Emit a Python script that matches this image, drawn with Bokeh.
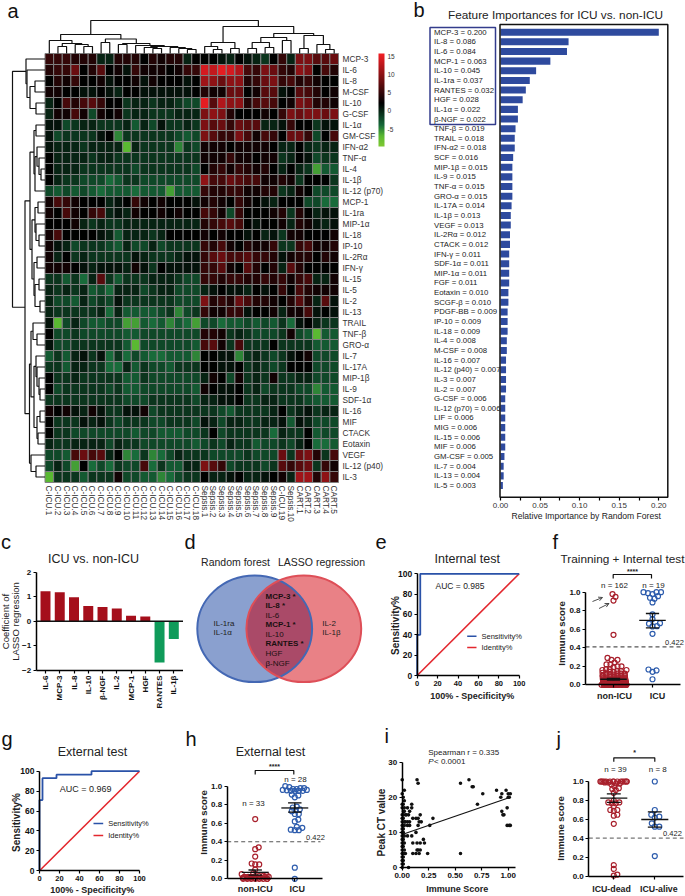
import math
import numpy as np
from bokeh.plotting import figure
from bokeh.layouts import column, row
from bokeh.embed import file_html
from bokeh.resources import INLINE
from bokeh.core.properties import value
from bokeh.models import (Range1d, LinearAxis, FixedTicker, NumeralTickFormatter,
                          LinearColorMapper, Arrow, OpenHead)

FONT = "Liberation Sans"

# ---------- DATA ----------
heat_cols = ["C-ICU.%d" % i for i in range(1, 19)] + ["Sepsis.%d" % i for i in range(1, 10)] + \
            ["C-ICU.19", "Sepsis.10"] + ["CART.%d" % i for i in range(1, 6)]
heat_rows_labels = ["MCP-3", "IL-6", "IL-8", "M-CSF", "IL-10", "G-CSF", "IL-1α", "GM-CSF", "IFN-α2", "TNF-α",
                    "IL-4", "IL-1β", "IL-12 (p70)", "MCP-1", "IL-1ra", "MIP-1α", "IL-18", "IP-10", "IL-2Rα",
                    "IFN-γ", "IL-15", "IL-5", "IL-2", "IL-13", "TRAIL", "TNF-β", "GRO-α", "IL-7", "IL-17A",
                    "MIP-1β", "IL-9", "SDF-1α", "IL-16", "MIF", "CTACK", "Eotaxin", "VEGF", "IL-12 (p40)", "IL-3"]
heat_values = [
 [5,5,5,4,4,4,0,0,4,4,4,2,4,3,4,4,0,2, 2,2,1,0,2,1,0,-1,2,5,0,9,9,7,7,8],
 [4,5,5,8,2,4,7,2,3,1,5,3,3,3,2,3,5,5, 14,13,15,14,12,6,5,9,8,5,4,10,9,2,6,4],
 [2,4,3,5,2,2,3,1,2,2,3,1,3,2,2,2,1,2, 11,10,8,10,10,4,5,8,9,5,6,4,5,3,2,2],
 [3,3,2,2,1,1,2,1,0,2,2,1,1,1,1,1,1,2, 4,3,3,8,8,2,3,7,7,1,2,7,6,4,2,3],
 [0,2,6,4,6,7,5,2,2,-1,0,0,-1,0,0,-1,-2,-2, 15,7,12,10,10,4,6,7,6,2,3,9,8,4,4,3],
 [0,3,3,6,3,-2,3,2,3,-1,0,0,-1,-1,-1,0,0,0, 9,10,9,4,2,2,2,3,2,5,9,8,9,9,8,9],
 [1,1,-2,-1,0,0,-1,-1,-1,0,-3,0,-2,1,-1,-1,0,-1, 9,7,8,5,8,7,7,0,0,1,5,2,2,-1,1,1],
 [1,-2,-1,-1,-1,-1,1,2,-5,-1,-1,-1,-1,-1,-1,-2,-3,-2, 9,7,5,5,9,6,3,6,5,2,8,8,5,-2,2,6],
 [1,0,0,0,-1,0,0,0,0,-7,0,-1,-1,-1,-1,-5,-1,-2, 3,3,3,2,3,3,3,3,2,0,0,2,0,-1,0,0],
 [2,0,0,0,0,-1,0,0,-1,-1,-1,-1,-1,-1,-1,-1,-1,-1, 3,3,3,5,3,3,2,3,3,-1,0,2,1,-2,-1,-1],
 [2,0,0,0,-1,-1,-1,-1,-1,-1,-2,-1,-1,-1,-1,-1,-1,-2, 2,4,5,3,5,4,3,4,2,0,2,0,-1,-6,-3,-3],
 [2,0,-1,-1,-2,-2,-2,-4,-3,-1,-1,-2,-2,-2,-2,-2,-2,-2, 10,6,6,8,7,6,6,3,3,4,3,-1,2,2,2,-1],
 [-2,-3,-2,-3,-2,-3,-4,-3,-3,-3,-4,-3,-3,-3,-6,-3,-3,-3, 5,4,4,5,5,3,3,4,4,-1,0,3,2,-2,-2,-2],
 [3,6,5,3,2,2,2,0,1,2,5,3,2,3,2,2,2,1, 3,4,3,2,5,3,2,1,0,2,2,2,-2,-2,-4,-4],
 [3,2,6,3,2,5,6,0,1,0,3,2,2,3,2,3,2,2, 6,5,3,-2,5,2,2,2,3,4,-1,4,2,0,1,1],
 [2,2,2,3,0,-1,0,-1,-1,0,0,0,0,0,0,0,0,0, 4,5,6,7,6,2,1,2,2,3,0,4,3,1,0,1],
 [3,6,2,2,2,2,1,0,-3,0,0,0,-1,0,2,2,2,2, 3,2,3,2,2,1,2,0,1,-1,3,3,2,2,2,3],
 [3,1,0,-2,-1,-1,-1,-2,-3,0,-2,-2,0,-2,-1,-1,-1,-1, 5,4,6,3,2,4,3,3,5,-1,-1,5,6,3,3,4],
 [3,0,2,-1,0,-1,-1,-1,-1,-1,1,0,-1,-1,-1,0,1,1, 5,7,8,6,6,7,5,5,4,1,3,4,4,2,4,3],
 [3,3,3,2,1,0,1,1,1,0,3,1,-1,2,1,1,1,1, 5,5,7,3,2,7,4,2,4,0,7,4,2,2,2,2],
 [-1,-1,-3,-1,-4,0,7,-1,-3,-1,-1,-1,0,0,0,-1,-2,-2, 5,5,4,5,5,4,4,5,4,5,3,5,6,0,0,3],
 [0,-1,0,-1,0,-3,-2,-4,0,0,0,-2,-1,0,0,-2,-2,-2, 0,1,2,1,1,0,2,1,2,5,2,6,4,3,3,3],
 [0,-2,-2,-3,0,-2,-1,-2,1,-1,-1,-1,-1,-1,-1,-2,-2,-2, 9,4,5,4,8,6,4,4,3,2,4,7,4,0,7,1],
 [0,-1,-1,-1,-1,-1,0,-4,0,-3,-3,-3,-3,-2,-1,-5,-2,-1, 5,3,3,5,5,1,2,2,3,0,3,3,6,1,2,1],
 [1,-7,-2,0,-2,-3,-3,-2,-2,-6,-6,-3,-4,-3,-5,-3,-4,-6, -2,-2,-4,-3,-3,-2,-3,-2,-3,-1,-4,1,2,0,-1,-1],
 [2,-2,-2,-1,-2,-2,-2,-2,-2,-3,-3,-2,-2,-2,-2,-2,-2,-2, 4,4,3,-1,0,-1,-2,-2,-2,-1,3,-2,-3,-7,-3,-3],
 [1,-2,-2,-1,-1,-1,-1,-1,-1,-3,-7,-2,-2,-2,-2,-2,-2,-3, 6,7,3,-1,6,-1,-1,-1,2,-1,-1,-1,-1,-3,-3,-3],
 [-3,-1,-3,0,1,-1,1,-4,-1,-4,-2,-3,-4,-4,-3,-3,-3,-5, 2,2,1,1,-5,-1,0,-1,-2,-1,1,2,3,-2,-2,-2],
 [-1,-1,-3,0,0,-1,-1,-4,-4,0,-3,-1,-2,-2,-3,-1,-1,-1, 2,2,1,1,2,-1,0,-1,-2,-1,2,2,2,-2,-2,-2],
 [2,-1,-1,0,-1,-1,-1,-1,-1,-3,-3,-1,-2,-2,-2,-2,-2,-2, 0,3,2,-2,3,-1,0,-1,3,-1,-1,0,0,-2,-2,-2],
 [2,-2,-1,-1,-1,-1,-1,-2,-1,-3,-3,-2,-2,-2,-2,-2,-2,-3, 3,2,1,1,2,-1,0,-2,-1,-1,-1,-2,-2,-5,-3,-3],
 [-1,-1,-1,-1,-1,-1,-1,-1,-1,-2,-2,-2,-1,-1,-1,-1,-1,-2, 0,0,1,1,2,-1,-1,0,0,-1,-1,-1,-2,-3,-3,-3],
 [3,2,3,1,0,3,1,-1,-1,1,1,3,-2,-1,-1,-1,-1,-1, -1,-1,-2,-3,-1,-1,-1,-1,0,2,-1,0,1,-1,0,0],
 [2,-1,-1,-1,1,0,1,-1,-2,-1,-1,-1,-2,-2,-1,-1,-1,-2, 1,0,-2,0,0,-1,-1,0,0,1,-3,1,0,-2,-2,-2],
 [2,-1,-1,-2,-2,-2,-2,-2,-2,-2,-3,-2,-2,-3,-3,-3,-2,-2, -1,2,-2,-1,-1,-1,-1,-1,-4,0,-1,-1,2,-3,-2,-2],
 [0,-1,-1,0,0,0,0,-2,0,-1,-1,-2,-2,-2,-2,-2,-2,-3, -2,-1,-2,0,-1,-1,-3,-2,-2,-1,-2,0,2,-4,-4,-3],
 [-2,-2,-3,6,8,6,7,0,2,-5,-4,-1,-5,-4,-2,0,-1,-1, -1,-2,-2,-2,-2,-1,-2,-2,-2,8,-1,8,9,4,-1,6],
 [-2,0,-2,-6,2,-4,-2,-4,-1,-2,-2,6,-4,-1,-3,-3,0,0, 9,7,5,-2,-1,-1,-1,-2,-1,7,5,7,8,-1,5,3],
 [-7,-1,-1,-1,-3,-1,-1,-1,3,-2,-2,-3,-3,-5,-4,-2,-1,-1, 2,0,0,1,2,0,0,1,2,3,0,11,11,4,10,5],
]
# dendrograms: (height, left child, right child); an int is a leaf
col_tree = (33,
            (19,
             (13, 1, (10, (7, 2, 3), (9, 4, (7, 5, 6)))),
             (14.5, (11, 7, 8), (10, (9, 9, 10), (8, 11, (7, (6, 12, (5, 13, 14)), (6, 15, (5, 16, (4, 17, 18)))))))),
            (27,
             (11, (7, 19, (4, 20, 21)), (5, 22, 23)),
             (20,
              (16, (11, (5, 24, 25), (6, 26, 27)), (13, 28, 29)),
              (18, (5, 30, 31), (9, 32, (4, 33, 34))))))
row_tree = (32.5,
            (19, 0, (18, 1, (15, (10, 2, 3), (9, 4, 5)))),
            (20,
             (15, (11, (9, 6, 7), (10, (8, 8, (6, 9, (4, 10, 11))), 12)),
              (13, (10, (7, 13, 14), (9, 15, (6, 16, 17))), (11, (8, 18, 19), (10, (6, 20, 21), (5, 22, 23))))),
             (15.5,
              (14, (12, 24, (8, 25, 26)), (11, (9, 27, (8, 28, (6, 29, (5, 30, 31)))), (8, (5, 32, 33), (7, 34, 35)))),
              (14, 36, (9, 37, 38)))))

imp_names = ["MCP-3", "IL-8", "IL-6", "MCP-1", "IL-10", "IL-1ra", "RANTES", "HGF", "IL-1α", "β-NGF", "TNF-β", "TRAIL",
             "IFN-α2", "SCF", "MIP-1β", "IL-9", "TNF-α", "GRO-α", "IL-17A", "IL-1β", "VEGF", "IL-2Rα", "CTACK", "IFN-γ",
             "SDF-1α", "MIP-1α", "FGF", "Eotaxin", "SCGF-β", "PDGF-BB", "IP-10", "IL-18", "IL-4", "M-CSF", "IL-16",
             "IL-12 (p40)", "IL-3", "IL-2", "G-CSF", "IL-12 (p70)", "LIF", "MIG", "IL-15", "MIF", "GM-CSF", "IL-7",
             "IL-13", "IL-5"]
imp_values = [0.200, 0.086, 0.084, 0.063, 0.045, 0.037, 0.032, 0.028, 0.022, 0.022, 0.019, 0.018, 0.018, 0.016, 0.015,
              0.015, 0.015, 0.015, 0.014, 0.013, 0.013, 0.012, 0.012, 0.011, 0.011, 0.011, 0.011, 0.010, 0.010, 0.009,
              0.009, 0.009, 0.008, 0.008, 0.007, 0.007, 0.007, 0.007, 0.006, 0.006, 0.006, 0.006, 0.006, 0.006, 0.005,
              0.004, 0.004, 0.003]

lasso_names = ["IL-6", "MCP-3", "IL-8", "IL-10", "β-NGF", "IL-2", "MCP-1", "HGF", "RANTES", "IL-1β"]
lasso_values = [1.22, 1.18, 0.98, 0.62, 0.58, 0.52, 0.23, 0.20, -1.67, -0.72]

venn_left = ["IL-1ra", "IL-1α"]
venn_right = ["IL-2", "IL-1β"]
venn_mid = [("MCP-3 *", True), ("IL-8 *", True), ("IL-6", False), ("MCP-1 *", True), ("IL-10", False),
            ("RANTES *", True), ("HGF", False), ("β-NGF", False)]

roc_e_x = [0, 0, 3, 3, 100]
roc_e_y = [0, 40, 40, 100, 100]
roc_g_x = [0, 0, 3, 3, 17, 17, 52, 52, 100]
roc_g_y = [0, 71, 71, 93, 93, 96.5, 96.5, 100, 100]
identity = [0, 100]

f_red = [0.98, 0.95, 0.91, 0.54, 0.29, 0.27, 0.27, 0.24, 0.22, 0.22, 0.20, 0.20, 0.19, 0.17, 0.17, 0.16, 0.16, 0.15,
         0.15, 0.14, 0.14, 0.13, 0.13, 0.12, 0.12, 0.12, 0.11, 0.11, 0.11, 0.10, 0.10, 0.10, 0.10, 0.09, 0.09, 0.09,
         0.09, 0.08, 0.08, 0.08, 0.08, 0.08, 0.07, 0.07, 0.07, 0.07, 0.07, 0.07, 0.06, 0.06, 0.06, 0.06, 0.06, 0.06,
         0.06, 0.05, 0.05, 0.05, 0.05, 0.05, 0.05, 0.05, 0.05, 0.04, 0.04, 0.04, 0.04, 0.04, 0.04, 0.04, 0.04, 0.04,
         0.04, 0.03, 0.03, 0.03, 0.03, 0.03, 0.03, 0.03, 0.03, 0.03, 0.03, 0.03, 0.03, 0.02, 0.02, 0.02, 0.02, 0.02,
         0.02, 0.02, 0.02, 0.02, 0.02, 0.02, 0.02, 0.02, 0.02, 0.01, 0.01, 0.01, 0.01, 0.01, 0.01, 0.01, 0.01, 0.01,
         0.01, 0.01, 0.01, 0.01, 0.01, 0.01, 0.01, 0.01, 0.01, 0.00, 0.00, 0.00, 0.00, 0.00, 0.00, 0.00, 0.00, 0.00,
         0.00, 0.00, 0.00, 0.00, 0.00, 0.00, 0.00, 0.00, 0.00, 0.00, 0.00, 0.00, 0.00, 0.00, 0.00, 0.00, 0.00]
f_blue = [1.0, 0.99, 0.93, 0.957, 0.89, 0.98, 0.94, 1.0, 1.0, 0.76, 0.71, 0.66, 0.63, 0.665, 0.633, 0.55, 0.155, 0.14,
          0.165, 0.06]
f_stats = [(0.06, 0.05, 0.07), (0.695, 0.615, 0.77)]

h_red = [0.645, 0.34, 0.32, 0.24, 0.165, 0.155, 0.155, 0.10, 0.06, 0.05, 0.04, 0.03, 0.03, 0.03, 0.02, 0.02, 0.02, 0.02,
         0.02, 0.01, 0.01, 0.01, 0.01, 0.01, 0.01, 0.0, 0.0, 0.0, 0.0, 0.0, 0.0, 0.0, 0.0]
h_blue = [1.0, 0.99, 0.98, 0.98, 0.97, 0.97, 0.96, 0.96, 0.955, 0.95, 0.95, 0.95, 0.95, 0.91, 0.90, 0.88, 0.78, 0.77,
          0.75, 0.74, 0.73, 0.70, 0.70, 0.64, 0.62, 0.56, 0.55, 0.525, 0.525, 0.53, 0.12, 0.0]
h_stats = [(0.07, 0.04, 0.095), (0.765, 0.72, 0.82)]

i_x = [0.0, 0.0, 0.01, 0.02, 0.02, 0.0, 0.01, 0.02, 0.0, 0.01, 0.02, 0.03, 0.0, 0.01, 0.0, 0.01, 0.0, 0.02, 0.03, 0.0,
       0.01, 0.02, 0.0, 0.01, 0.0, 0.01, 0.0, 0.01, 0.02, 0.0, 0.01, 0.0, 0.01, 0.02, 0.0, 0.01, 0.0, 0.02, 0.0, 0.01,
       0.02, 0.03, 0.0, 0.01, 0.0, 0.01, 0.0, 0.01, 0.0, 0.06, 0.05, 0.07, 0.09, 0.09, 0.04, 0.06, 0.05, 0.07, 0.05,
       0.07, 0.09, 0.05, 0.10, 0.13, 0.13, 0.10, 0.14, 0.17, 0.20, 0.21, 0.10, 0.13, 0.14, 0.15, 0.16, 0.17, 0.24, 0.14,
       0.15, 0.17, 0.16, 0.18, 0.15, 0.15, 0.26, 0.29, 0.55, 0.55, 0.63, 0.66, 0.67, 0.71, 0.76, 0.89, 0.93, 0.94, 0.94,
       0.96, 0.95, 0.98, 0.99, 0.99, 1.0, 1.0, 1.01, 1.02, 1.01, 1.02]
i_y = [25, 21, 20, 22, 19, 18, 18, 17, 17, 16, 16, 15, 15, 15, 14, 14, 13, 13, 13, 12,
       12, 12, 11, 11, 10, 10, 9, 9, 9, 8, 8, 7, 7, 7, 6, 6, 5, 5, 4, 4,
       4, 4, 3, 3, 2, 2, 1, 1, 0, 0, 17, 16, 17, 18, 15, 15, 13, 13, 12,
       12, 9, 9, 14, 14, 10, 7, 7, 7, 8, 7, 4, 4, 5, 5, 4, 5, 4, 25,
       24, 15, 13, 13, 12, 14, 12, 14, 4, 24, 25, 23, 23, 18, 21, 22, 20, 21, 16,
       15, 15, 22, 17, 12, 21, 20, 12, 12, 20, 21]
i_fit_x = [0.0, 1.0]
i_fit_y = [9.4, 19.8]

j_red = [1.0, 1.0, 1.0, 1.0, 1.0, 1.0, 1.0, 1.0, 1.0, 1.0, 1.0, 1.0, 1.0, 1.0, 0.99, 0.99, 0.98, 0.98, 0.97, 0.95, 0.93,
         0.92, 0.91, 0.88, 0.80, 0.78, 0.78, 0.77, 0.77, 0.74, 0.70, 0.70, 0.69, 0.65, 0.64, 0.555, 0.12, 0.08, 0.02, 0.01]
j_blue = [1.0, 0.70, 0.65, 0.63, 0.62, 0.56, 0.525, 0.525, 0.215]
j_stats = [(0.825, 0.78, 0.87), (0.60, 0.52, 0.68)]

RED = "#a8202c"
BLUE = "#2d5cad"


# ---------- HELPERS ----------
def mk(X0, X1, Y0, Y1, xa, xav, xb, xbv, ya, yav, yb, ybv):
    fx = lambda px: xav + (px - xa) * (xbv - xav) / (xb - xa)
    fy = lambda py: yav + (py - ya) * (ybv - yav) / (yb - ya)
    p = figure(width=X1 - X0, height=Y1 - Y0, x_range=Range1d(fx(X0), fx(X1)), y_range=Range1d(fy(Y1), fy(Y0)),
               x_axis_location=None, y_axis_location=None, toolbar_location=None, output_backend="svg",
               min_border=0, outline_line_color=None, tools="")
    p.grid.visible = False
    return p, fx, fy


def t(P, px, py, s, size=8, bold=False, italic=False, align="center", base="middle", angle=0, color="#222222"):
    p, fx, fy = P
    style = "bold" if bold else ("italic" if italic else "normal")
    p.text(x=[fx(px)], y=[fy(py)], text=[s], text_font=value(FONT), text_font_size="%gpx" % size,
           text_font_style=style, text_align=align, text_baseline=base, angle=angle, text_color=color)


def axis(P, side, loc, ticks, bounds=None, labels=None, fmt=None, size=8, bold=True, orient=None, lw=1.5,
         tick_out=3, standoff=2, minor=None, line=True, color="#111111"):
    p = P[0]
    ax = LinearAxis(ticker=FixedTicker(ticks=ticks, minor_ticks=minor or []), fixed_location=loc,
                    axis_line_width=lw, major_tick_line_width=1.2 if tick_out else 0, major_tick_in=0,
                    major_tick_out=tick_out, minor_tick_in=0, minor_tick_out=3 if minor else 0,
                    minor_tick_line_width=1.2, major_label_standoff=standoff,
                    major_label_text_font=FONT, major_label_text_font_size="%gpx" % size,
                    major_label_text_font_style="bold" if bold else "normal", major_label_text_color=color)
    if bounds is not None:
        ax.bounds = bounds
    if labels is not None:
        ax.major_label_overrides = labels
    if fmt is not None:
        ax.formatter = NumeralTickFormatter(format=fmt)
    if orient is not None:
        ax.major_label_orientation = orient
    if not line:
        ax.axis_line_color = None
    p.add_layout(ax, side)
    return ax


def tree_segments(node, leaf_pos):
    """Returns (pos, height, segments); segments are (pos, height) polylines."""
    if not isinstance(node, tuple):
        return leaf_pos(node), 0.0, []
    h, a, b = node
    pa_, ha, sa = tree_segments(a, leaf_pos)
    pb_, hb, sb = tree_segments(b, leaf_pos)
    return (pa_ + pb_) / 2, h, sa + sb + [([pa_, pa_, pb_, pb_], [ha, h, h, hb])]


def swarm(vals, xunit_px, yunit_px, d=4.2, maxw=14):
    order = np.argsort(vals)
    placed = []
    off = [0.0] * len(vals)
    for n, i in enumerate(order):
        y = vals[i] * yunit_px
        chosen = None
        for k in range(0, int(maxw * 2) + 1):
            for s in ([1, -1] if k else [1]):
                o = s * k * 0.5
                if all((o - a) ** 2 + (y - b) ** 2 >= d * d for a, b in placed):
                    chosen = o
                    break
            if chosen is not None:
                break
        if chosen is None:
            chosen = (n * 3.7) % (2 * maxw) - maxw
        placed.append((chosen, y))
        off[i] = chosen / xunit_px
    return off


def bee(P, center, vals, color, xunit, yunit, d=4.2, maxw=14):
    off = swarm(vals, xunit, yunit, d, maxw)
    P[0].scatter([center + o for o in off], vals, marker="circle", size=5, fill_color=None, line_color=color,
                 line_width=1.2)


def stats_bars(P, centers, stats, half, cap):
    p = P[0]
    for c, (m, lo, hi) in zip(centers, stats):
        p.segment([c - half, c - cap, c - cap, c], [m, lo, hi, lo], [c + half, c + cap, c + cap, c], [m, lo, hi, hi],
                  line_color="#111111", line_width=1.3)


def bracket(P, x0, x1, y, drop):
    p, fx, fy = P
    p.line([fx(x0), fx(x0), fx(x1), fx(x1)], [fy(y + drop), fy(y), fy(y), fy(y + drop)], line_color="#111111",
           line_width=1.2)


# ---------- PANEL A ----------
A = mk(0, 408, 0, 528, 44.5, 0, 338, 34, 53, 0, 482, 39)
pa, ax_, ay_ = A
stops = [(-9.7, (125, 200, 50)), (-7.0, (90, 185, 50)), (-4.0, (22, 105, 58)), (2.0, (0, 0, 0)), (15.5, (240, 30, 36))]
palette = []
for i in range(256):
    v = -9.7 + (15.5 + 9.7) * i / 255
    for (v0, c0), (v1, c1) in zip(stops, stops[1:]):
        if v <= v1 + 1e-9:
            f = (v - v0) / (v1 - v0)
            palette.append("#%02x%02x%02x" % tuple(int(round(a + (b - a) * f)) for a, b in zip(c0, c1)))
            break
mapper = LinearColorMapper(palette=palette, low=-9.7, high=15.5)
hx, hy, hv = [], [], []
for r, vals in enumerate(heat_values):
    for c, v in enumerate(vals):
        hx.append(c + 0.5)
        hy.append(r + 0.5)
        hv.append(v)
pa.rect(x=hx, y=hy, width=1, height=1, fill_color=[palette[int((v + 9.7) / 25.2 * 255)] for v in hv],
        line_color="#808080", line_width=1)
colw = (338 - 44.5) / 34
rowh = (482 - 53) / 39
_, _, segs = tree_segments(col_tree, lambda c: c - 0.5)
pa.multi_line([s[0] for s in segs], [[-h / rowh for h in s[1]] for s in segs], line_color="#111111", line_width=1.2)
_, _, segs = tree_segments(row_tree, lambda r: r + 0.5)
pa.multi_line([[-h / colw for h in s[1]] for s in segs], [s[0] for s in segs], line_color="#111111", line_width=1.2)
axis(A, "below", 39, [i + 0.5 for i in range(34)], labels={i + 0.5: n for i, n in enumerate(heat_cols)}, size=8.3,
     bold=False, orient=-math.pi / 2, tick_out=0, line=False, standoff=3, color="#333333")
axis(A, "right", 34, [i + 0.5 for i in range(39)], labels={i + 0.5: n for i, n in enumerate(heat_rows_labels)}, size=8.3,
     bold=False, tick_out=0, line=False, standoff=4, color="#333333")
grad = np.linspace(15.5, -9.7, 93).reshape(-1, 1)
pa.image(image=[grad], x=ax_(378), y=ay_(53), dw=ax_(384) - ax_(378), dh=ay_(146) - ay_(53), color_mapper=mapper)
for lab, yy in zip(["15", "10", "5", "0", "-5"], [55.5, 73.5, 92, 110, 128.6]):
    t(A, 387, yy, lab, size=6.5, align="left", color="#333333")
t(A, 7, 10, "a", size=20, align="left", color="#111111")

# ---------- PANEL B ----------
B = mk(408, 685, 0, 528, 500, 0, 658.3, 0.2, 31.7, 0, 485, 47)
pb, bx, by = B
pb.hbar(y=list(range(len(imp_values))), left=0, right=imp_values, height=0.73, fill_color="#2e4a9e", line_color=None)
pb.quad(left=[bx(499.5)], right=[bx(667.3)], top=[by(24)], bottom=[by(496.7)], fill_color=None, line_color="#111111",
        line_width=1.5)
pb.quad(left=[bx(429.5)], right=[bx(495)], top=[by(27)], bottom=[by(124)], fill_color=None, line_color="#333c8c",
        line_width=1.5)
for i, (n, v) in enumerate(zip(imp_names, imp_values)):
    t(B, 433.5, 31.7 + i * (485 - 31.7) / 47, "%s = %.3f" % (n, v), size=7.8, align="left")
axis(B, "below", by(496.7), [0, 0.05, 0.1, 0.15, 0.2], minor=[0.025, 0.075, 0.125, 0.175], fmt="0.00", bold=False,
     line=False, standoff=3, color="#333333")
t(B, 555, 14, "Feature Importances for ICU vs. non-ICU", size=11.8, color="#222222")
t(B, 585.7, 515, "Relative Importance by Random Forest", size=8.6)
t(B, 413, 9, "b", size=20, align="left", color="#111111")

# ---------- PANEL C ----------
C = mk(0, 183, 528, 715, 45, 0, 173.3, 9, 571.7, 2, 670, -2)
pc, cx, cy = C
idx = list(range(10))
pc.vbar(x=[i for i in idx if lasso_values[i] > 0], top=[v for v in lasso_values if v > 0], bottom=0, width=0.7,
        fill_color="#a50f1b", line_color=None)
pc.vbar(x=[i for i in idx if lasso_values[i] < 0], top=[v for v in lasso_values if v < 0], bottom=0, width=0.7,
        fill_color="#0f9b5a", line_color=None)
pc.line([cx(35.7), cx(182.7)], [0, 0], line_color="#111111", line_width=1.5)
axis(C, "left", cx(35.7), [-2, -1, 0, 1, 2], bounds=(-2, 2))
axis(C, "below", -2, idx, bounds=(cx(35.7), cx(182.7)), labels={i: n for i, n in enumerate(lasso_names)},
     orient=math.pi / 2)
t(C, 93, 558, "ICU vs. non-ICU", size=12.5)
t(C, 5, 621, "Coefficient of", size=9.5, angle=math.pi / 2)
t(C, 15, 621, "LASSO regression", size=9.5, angle=math.pi / 2)
t(C, 0.5, 541, "c", size=20, align="left", color="#111111")

# ---------- PANEL D ----------
D = mk(183, 372, 528, 715, 183, 183, 372, 372, 528, 528, 715, 715)
pd_, dx, dy = D
c1, c2, cyy, rx, ry = 254.2, 303.3, 628.3, 57.4, 53.3
pd_.ellipse(x=[c1], y=[cyy], width=2 * rx, height=2 * ry, fill_color="#4c6db5", fill_alpha=0.65, line_color=None)
pd_.ellipse(x=[c2], y=[cyy], width=2 * rx, height=2 * ry, fill_color="#e1575e", fill_alpha=0.75, line_color=None)
th = np.linspace(0, 2 * np.pi, 361)
e1x, e1y = c1 + rx * np.cos(th), cyy + ry * np.sin(th)
e2x, e2y = c2 + rx * np.cos(th), cyy + ry * np.sin(th)
in2 = ((e1x - c2) / rx) ** 2 + ((e1y - cyy) / ry) ** 2 <= 1
in1 = ((e2x - c1) / rx) ** 2 + ((e2y - cyy) / ry) ** 2 <= 1
pts_a = sorted(zip(e1x[in2], e1y[in2]), key=lambda q: q[1])
pts_b = sorted(zip(e2x[in1], e2y[in1]), key=lambda q: -q[1])
poly = pts_a + pts_b
pd_.patch([q[0] for q in poly], [q[1] for q in poly], fill_color="#aa4a68", line_color=None)
pd_.ellipse(x=[c1], y=[cyy], width=2 * rx, height=2 * ry, fill_color=None, line_color="#4468b4", line_width=2)
pd_.ellipse(x=[c2], y=[cyy], width=2 * rx, height=2 * ry, fill_color=None, line_color="#de4f58", line_width=2)
t(D, 235, 561.7, "Random forest", size=10.5)
t(D, 321, 561.7, "LASSO regression", size=10.5)
for s, yy in zip(venn_left, [622.7, 632]):
    t(D, 213, yy, s, size=8, align="left")
for s, yy in zip(venn_right, [622.7, 632]):
    t(D, 321.7, yy, s, size=8, align="left")
for (s, b), yy in zip(venn_mid, [595.7, 605.3, 615, 624.3, 633.7, 643.3, 653, 662.7]):
    t(D, 265, yy, s, size=8, bold=b, align="left", color="#1a1010")
t(D, 184, 541, "d", size=20, align="left", color="#111111")


# ---------- ROC helper ----------
def roc(P, xs, ys):
    p = P[0]
    p.line(identity, identity, line_color="#e3272e", line_width=1.6)
    p.line(xs, ys, line_color="#2a52a8", line_width=1.8)
    axis(P, "below", 0, [0, 20, 40, 60, 80, 100], bounds=(0, 100), size=7.5)
    axis(P, "left", 0, [0, 20, 40, 60, 80, 100], bounds=(0, 100), size=8.5)


# ---------- PANEL E ----------
E = mk(372, 545, 528, 715, 416.7, 0, 518.7, 100, 675, 0, 573.3, 100)
roc(E, roc_e_x, roc_e_y)
t(E, 466.7, 558, "Internal test", size=12.5)
t(E, 395, 625, "Sensitivity%", size=10, bold=True, angle=math.pi / 2)
t(E, 471.7, 695, "100% - Specificity%", size=9, bold=True)
t(E, 435, 585, "AUC = 0.985", size=8.5, align="left")
E[0].line([E[1](466.7), E[1](476)], [E[2](635.7)] * 2, line_color="#2a52a8", line_width=1.6)
E[0].line([E[1](466.7), E[1](476)], [E[2](647)] * 2, line_color="#e3272e", line_width=1.6)
t(E, 481, 635.7, "Sensitivity%", size=7.5, align="left")
t(E, 481, 647, "Identity%", size=7.5, align="left")
t(E, 375, 541, "e", size=20, align="left", color="#111111")

# ---------- PANEL F ----------
F = mk(545, 685, 528, 715, 613, 0, 652, 1, 684.3, 0, 591.7, 1)
pf, fx_, fy_ = F
pf.line([fx_(585), fx_(680)], [0.41, 0.41], line_color="#555555", line_width=1.2, line_dash="4 3")
bee(F, 0, f_red, RED, 39, 92.6, d=4.0, maxw=13)
bee(F, 1, f_blue, BLUE, 39, 92.6, d=4.2)
stats_bars(F, [0, 1], f_stats, 0.34, 0.17)
axis(F, "below", 0, [0, 1], bounds=(fx_(585), fx_(680)), labels={0: "", 1: ""}, size=9, standoff=4)
t(F, 614, 695, "non-ICU", size=9, bold=True)
t(F, 657, 695, "ICU", size=9, bold=True)
axis(F, "left", fx_(585), [0, 0.2, 0.4, 0.6, 0.8, 1.0], bounds=(0, 1), fmt="0.0", size=8)
bracket(F, 612.7, 651, 574, 4)
t(F, 632, 570.5, "****", size=7, bold=True)
t(F, 614, 585, "n = 162", size=8)
t(F, 653, 585, "n = 19", size=8)
t(F, 674, 642, "0.422", size=7.5)
t(F, 622, 558, "Trainning + Internal test", size=11.8)
t(F, 560.7, 633, "Immune score", size=9.5, bold=True, angle=math.pi / 2)
t(F, 552, 541, "f", size=20, align="left", color="#111111")
for (sx, sy, ex, ey) in [(592, 601, 602, 597), (598.5, 608, 608.5, 603)]:
    pf.add_layout(Arrow(end=OpenHead(size=4, line_width=0.8, line_color="#222222"), x_start=fx_(sx), y_start=fy_(sy),
                        x_end=fx_(ex), y_end=fy_(ey), line_width=0.8, line_color="#222222"))

# ---------- PANEL G ----------
G = mk(0, 182, 715, 896, 39, 0, 139, 100, 870.3, 0, 770.7, 100)
roc(G, roc_g_x, roc_g_y)
t(G, 92, 751, "External test", size=12.5)
t(G, 15.7, 822, "Sensitivity%", size=10, bold=True, angle=math.pi / 2)
t(G, 91.7, 889, "100% - Specificity%", size=9, bold=True)
t(G, 59.3, 788, "AUC = 0.969", size=9, align="left")
G[0].line([G[1](93), G[1](102.7)], [G[2](823)] * 2, line_color="#2a52a8", line_width=1.6)
G[0].line([G[1](93), G[1](102.7)], [G[2](835)] * 2, line_color="#e3272e", line_width=1.6)
t(G, 107.7, 823, "Sensitivity%", size=7.5, align="left")
t(G, 107.7, 835, "Identity%", size=7.5, align="left")
t(G, 1, 738, "g", size=20, align="left", color="#111111")

# ---------- PANEL H ----------
H = mk(182, 372, 715, 896, 254.7, 0, 294.3, 1, 878.3, 0, 785.7, 1)
ph, hx_, hy_ = H
ph.line([hx_(226.7), hx_(320)], [0.4, 0.4], line_color="#555555", line_width=1.2, line_dash="4 3")
bee(H, 0, h_red, RED, 39.6, 92.6, d=3.6, maxw=14)
bee(H, 1, h_blue, BLUE, 39.6, 92.6, d=3.8, maxw=14)
stats_bars(H, [0, 1], h_stats, 0.34, 0.17)
axis(H, "below", 0, [0, 1], bounds=(hx_(226.7), hx_(321.7)), labels={0: "", 1: ""}, size=9, standoff=4)
t(H, 254.7, 888, "non-ICU", size=9, bold=True)
t(H, 296.7, 888, "ICU", size=9, bold=True)
axis(H, "left", hx_(226.7), [0, 0.2, 0.4, 0.6, 0.8, 1.0], bounds=(0, 1), fmt="0.0", size=8)
bracket(H, 254.7, 293.3, 770, 4)
t(H, 274, 766, "****", size=7, bold=True)
t(H, 295, 779.3, "n = 28", size=8)
t(H, 253, 802.7, "n = 33", size=8)
t(H, 315, 836.7, "0.422", size=7.5)
t(H, 270, 751, "External test", size=12.5)
t(H, 203.3, 822, "Immune score", size=9.5, bold=True, angle=math.pi / 2)
t(H, 185, 738, "h", size=20, align="left", color="#111111")

# ---------- PANEL I ----------
I = mk(372, 555, 715, 896, 401.7, 0, 507.7, 1, 867, 0, 761.7, 30)
pi_, ix, iy = I
pi_.scatter(i_x, i_y, marker="circle", size=3.6, fill_color="#111111", line_color=None)
pi_.line(i_fit_x, i_fit_y, line_color="#111111", line_width=1.2)
axis(I, "below", 0, [0, 0.25, 0.5, 0.75, 1.0], bounds=(0, ix(515)), fmt="0.00", size=8)
axis(I, "left", 0, [0, 10, 20, 30], bounds=(0, 30), size=8)
t(I, 456.7, 888, "Immune Score", size=9, bold=True)
t(I, 380.7, 822, "Peak CT value", size=10, bold=True, angle=math.pi / 2)
t(I, 427.7, 752, "Spearman r = 0.335", size=8, align="left")
t(I, 427.7, 761.3, "P", size=8, italic=True, align="left")
t(I, 433.5, 761.3, "< 0.0001", size=8, align="left")
t(I, 384, 735, "i", size=20, align="left", color="#111111")

# ---------- PANEL J ----------
J = mk(555, 685, 715, 896, 613.3, 0, 654.3, 1, 876, 0, 781, 1)
pj, jx, jy = J
pj.line([jx(588.3), jx(683)], [0.404, 0.404], line_color="#777777", line_width=1.4, line_dash="4 3")
bee(J, 0, j_red, RED, 41, 95, d=3.4, maxw=14)
bee(J, 1, j_blue, BLUE, 41, 95, d=4.2)
stats_bars(J, [0, 1], j_stats, 0.33, 0.17)
axis(J, "below", 0, [0, 1], bounds=(jx(588.3), jx(683)), labels={0: "", 1: ""}, size=9, standoff=4)
t(J, 611, 888, "ICU-dead", size=8.8, bold=True)
t(J, 658.3, 888, "ICU-alive", size=8.8, bold=True)
axis(J, "left", jx(588.3), [0, 0.2, 0.4, 0.6, 0.8, 1.0], bounds=(0, 1), fmt="0.0", size=8)
bracket(J, 613.3, 654.3, 757.3, 4)
t(J, 634, 752, "*", size=7, bold=True)
t(J, 615, 768.7, "n = 39", size=8)
t(J, 657.3, 768.7, "n = 8", size=8)
t(J, 672, 833, "0.422", size=7.5)
t(J, 560, 828, "Immune score", size=9.5, bold=True, angle=math.pi / 2)
t(J, 556, 738, "j", size=20, align="left", color="#111111")

layout = column(row(A[0], B[0], spacing=0), row(C[0], D[0], E[0], F[0], spacing=0),
                row(G[0], H[0], I[0], J[0], spacing=0), spacing=0)
open("out.html", "w").write(file_html(layout, INLINE))
